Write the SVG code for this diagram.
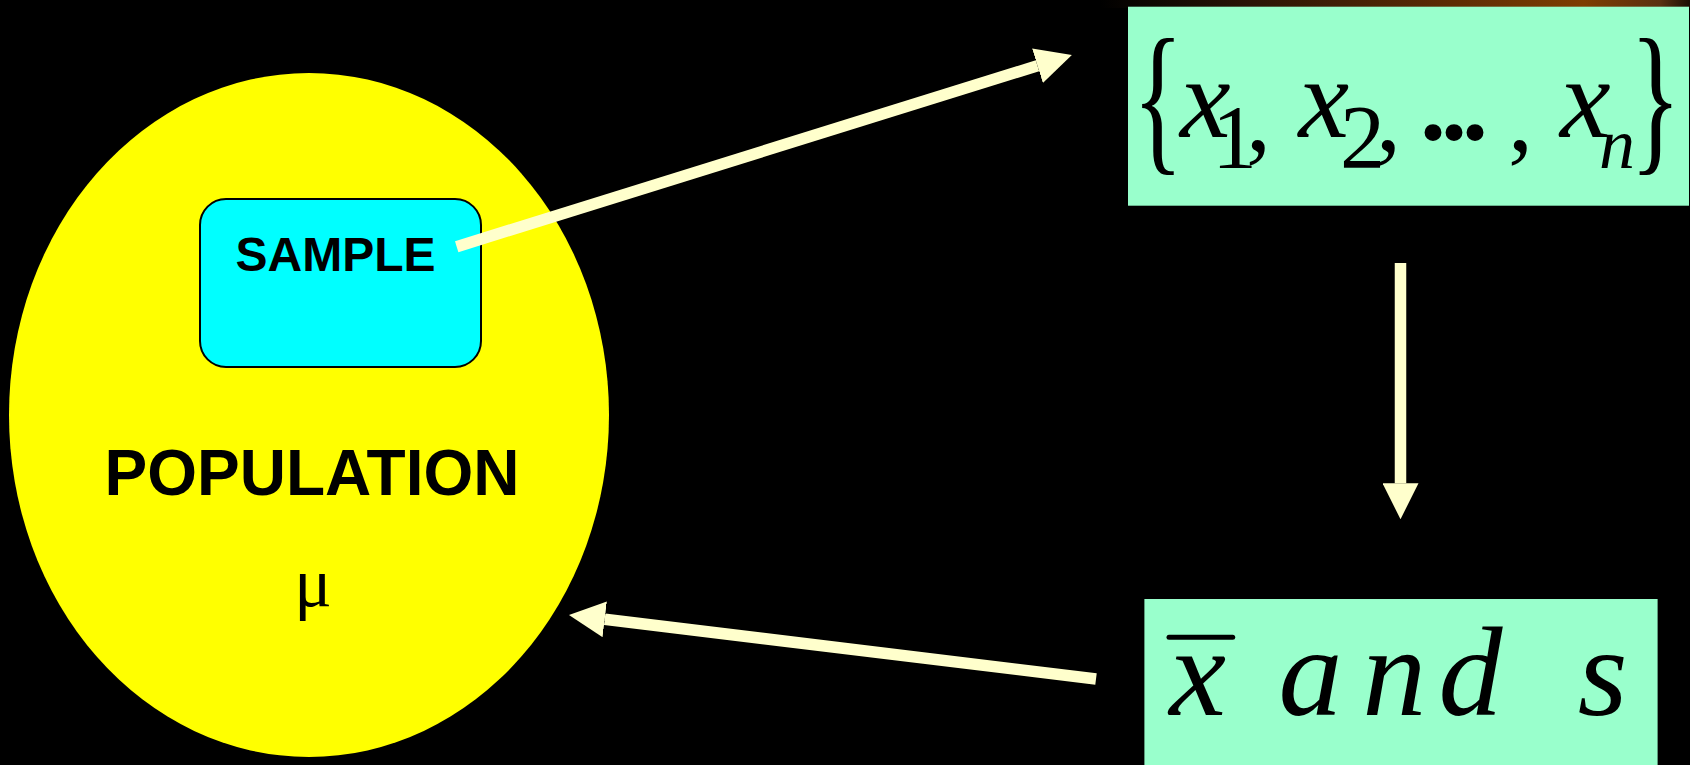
<svg xmlns="http://www.w3.org/2000/svg" width="1690" height="765" viewBox="0 0 1690 765">
  <style>
    .lbl { font-family: "Liberation Sans", Arial, sans-serif; font-weight: bold; fill: #000; text-anchor: middle; }
    .math { font-family: "Liberation Serif", "Times New Roman", serif; fill: #000; }
    .it { font-style: italic; }
    .conn { stroke: #FFFFCC; stroke-width: 11.5; fill: none; stroke-linecap: butt; }
    .mbox { fill: #99FFCC; }
  </style>
  <defs>
    <linearGradient id="topband" x1="0" y1="0" x2="1" y2="0">
      <stop offset="0" stop-color="#000000"/>
      <stop offset="0.25" stop-color="#2a1406"/>
      <stop offset="0.6" stop-color="#5e2c04"/>
      <stop offset="0.82" stop-color="#7e3e02"/>
      <stop offset="0.95" stop-color="#5a3010"/>
      <stop offset="1" stop-color="#1a0d04"/>
    </linearGradient>
    <marker id="head" viewBox="0 0 36 36" refX="0" refY="18" markerWidth="36" markerHeight="36" markerUnits="userSpaceOnUse" orient="auto">
      <path d="M0,0 L36,18 L0,36 Z" fill="#FFFFCC"/>
    </marker>
  </defs>

  <rect x="0" y="0" width="1690" height="765" fill="#000000"/>
  <rect x="1100" y="0" width="590" height="8" fill="url(#topband)"/>

  <g id="population">
    <ellipse cx="309" cy="415" rx="300" ry="342" fill="#FFFF00"/>
    <text class="lbl" x="312" y="495" font-size="64">POPULATION</text>
    <text class="math" x="313" y="606" font-size="70" text-anchor="middle">μ</text>
  </g>

  <g id="sample">
    <rect x="200" y="199" width="281" height="168" rx="26" ry="26" fill="#00FFFF" stroke="#000" stroke-width="2"/>
    <text class="lbl" x="335.5" y="271" font-size="48">SAMPLE</text>
  </g>

  <g id="sample-values">
    <rect class="mbox" x="1128" y="6.7" width="561" height="199"/>
    <text class="math" font-size="106" transform="translate(1132.4,153) scale(1,1.555)">{</text>
    <text class="math it" x="1180" y="137" font-size="114">x</text>
    <text class="math" x="1212" y="168" font-size="90">1</text>
    <text class="math" x="1246" y="150" font-size="100">,</text>
    <text class="math it" x="1298.6" y="137" font-size="114">x</text>
    <text class="math" x="1340" y="168" font-size="90">2</text>
    <text class="math" x="1376" y="150" font-size="100">,</text>
    <text class="math" x="1420" y="140" font-size="104" font-weight="bold" letter-spacing="-5">...</text>
    <text class="math" x="1508" y="150" font-size="100">,</text>
    <text class="math it" x="1560" y="137" font-size="114">x</text>
    <text class="math it" x="1599" y="168" font-size="72">n</text>
    <text class="math" font-size="106" transform="translate(1630,153) scale(1,1.555)">}</text>
  </g>

  <g id="statistics">
    <rect class="mbox" x="1144.4" y="599" width="513.2" height="166"/>
    <line x1="1169" y1="637.3" x2="1232.7" y2="637.3" stroke="#000" stroke-width="5" stroke-linecap="round"/>
    <text class="math it" x="1169.3" y="715" font-size="128">x</text>
    <text class="math it" x="1278.4" y="715" font-size="128">a</text>
    <text class="math it" x="1362.3" y="715" font-size="128">n</text>
    <text class="math it" x="1438.6" y="715" font-size="128">d</text>
    <text class="math it" x="1577.8" y="715" font-size="128">s</text>
  </g>

  <g id="connectors">
    <line class="conn" x1="456.7" y1="246.7" x2="1037.5" y2="65.7" marker-end="url(#head)"/>
    <line class="conn" x1="1400.5" y1="263" x2="1400.5" y2="483.3" marker-end="url(#head)"/>
    <line class="conn" x1="1096" y1="679" x2="604.7" y2="619.3" marker-end="url(#head)"/>
  </g>
</svg>
